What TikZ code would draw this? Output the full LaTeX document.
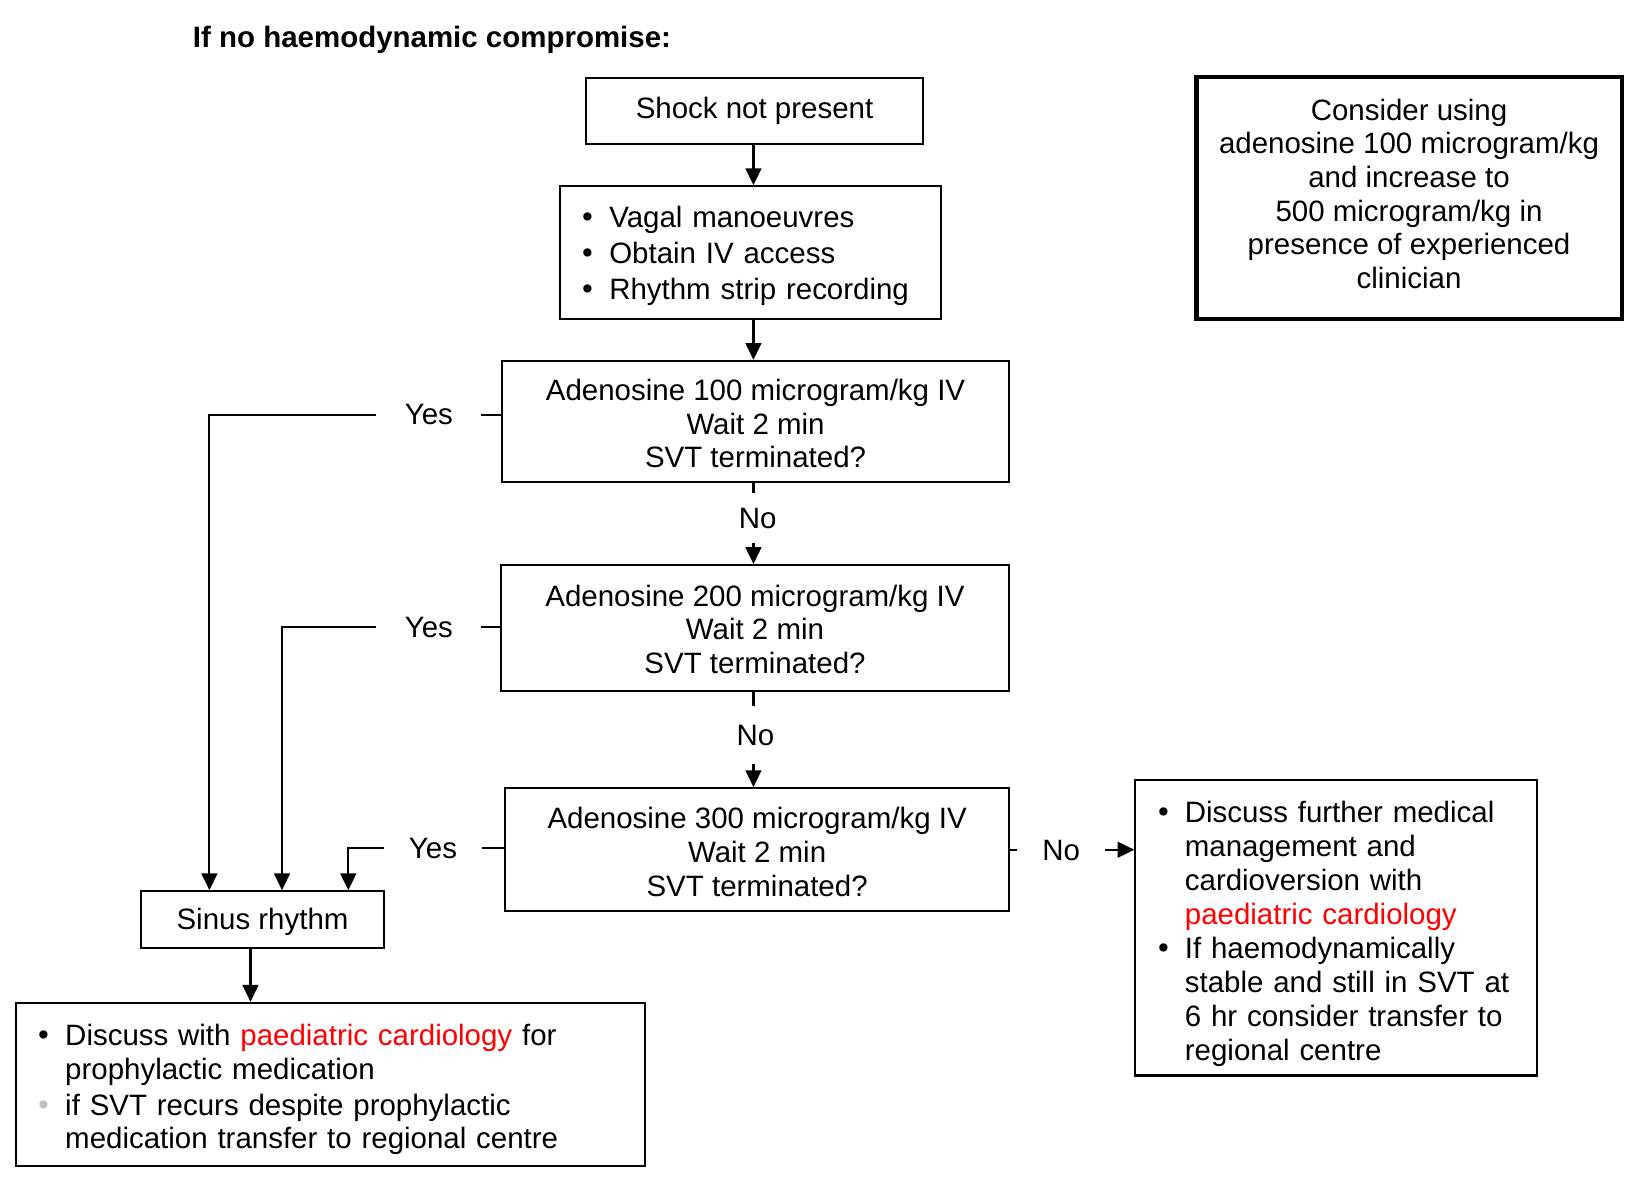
\documentclass[tikz,border=0pt]{standalone}
\usepackage{fontspec}
\setmainfont{Liberation Sans}
\newfontfamily\bulfont{DejaVu Sans}
\usetikzlibrary{arrows.meta}
\definecolor{pcred}{RGB}{255,0,0}
\definecolor{bulgrey}{RGB}{192,192,192}
\newcommand{\bigbul}{{\bulfont\fontsize{13.5}{16}\selectfont •}}
\newcommand{\bl}[1]{\hspace*{9.5pt}\makebox[14pt][l]{\bigbul}#1}
\newcommand{\gbl}[1]{\hspace*{9.5pt}\makebox[14pt][l]{\textcolor{bulgrey}{\bigbul}}#1}
\newcommand{\cl}[1]{\hspace*{23.5pt}#1}
\newcommand{\tpad}[1]{\rule{0pt}{#1}}
\newcommand{\bpad}[1]{\rule[-#1]{0pt}{0pt}}
\begin{document}
\begin{tikzpicture}[x=0.5pt,y=-0.5pt,
  every node/.style={font=\fontsize{14}{16}\selectfont},
  box/.style={draw, line width=1pt, inner sep=0pt, align=center},
  lbox/.style={draw, line width=1pt, inner xsep=0pt, inner ysep=0pt, align=left},
  lab/.style={inner sep=0pt},
  ln/.style={line width=1pt},
  arr/.style={line width=1pt, -{Triangle[width=7.5pt,length=8pt]}}]

\node[lab, font=\fontsize{14}{16}\selectfont\bfseries] (title) at (410.5,38) {If no haemodynamic compromise:};

\node[box, minimum width=160pt, minimum height=31.5pt] (shock) at (717,105.5) {Shock not present};

\node[lbox, text width=181pt, minimum height=63pt, font=\fontsize{14}{17}\selectfont] (vagal) at (713,240)
  {\tpad{13.4pt}\bl{Vagal manoeuvres}\\ \bl{Obtain IV access}\\ \bl{Rhythm strip recording}};

\node[box, minimum width=241pt, minimum height=57.5pt] (a100) at (718,400.5)
  {\tpad{12.2pt}Adenosine 100 microgram/kg IV\\ Wait 2 min\\ SVT terminated?};
\node[box, minimum width=241.5pt, minimum height=60pt] (a200) at (717.5,597)
  {\tpad{11.2pt}Adenosine 200 microgram/kg IV\\ Wait 2 min\\ SVT terminated?};
\node[box, minimum width=239.5pt, minimum height=58.5pt] (a300) at (719.5,807.5)
  {\tpad{12.2pt}Adenosine 300 microgram/kg IV\\ Wait 2 min\\ SVT terminated?};

\node[box, line width=2pt, minimum width=202pt, minimum height=115pt] (consider) at (1339,188)
  {Consider using\\ adenosine 100 microgram/kg\\ and increase to\\ 500 microgram/kg in\\ presence of experienced\\ clinician\bpad{4pt}};

\node[lbox, text width=191pt, minimum height=140.5pt, font=\fontsize{14}{16.2}\selectfont] (further) at (1270,881.5)
  {\tpad{16pt}\bl{Discuss further medical}\\ \cl{management and}\\ \cl{cardioversion with}\\ \cl{\textcolor{pcred}{paediatric cardiology}}\\
   \bl{If haemodynamically}\\ \cl{stable and still in SVT at}\\ \cl{6 hr consider transfer to}\\ \cl{regional centre}};

\node[box, minimum width=115.5pt, minimum height=27pt] (sinus) at (249.5,874) {\tpad{12pt}Sinus rhythm};

\node[lbox, text width=299pt, minimum height=77.5pt] (discuss) at (314,1030.5)
  {\tpad{15.2pt}\bl{Discuss with \textcolor{pcred}{paediatric cardiology} for}\\ \cl{prophylactic medication}\\[1pt]
   \gbl{if SVT recurs despite prophylactic}\\ \cl{medication transfer to regional centre}};

% column coordinate
\coordinate (col) at (716,0);

\draw[arr] (col |- shock.south) -- (col |- vagal.north);
\draw[arr] (col |- vagal.south) -- (col |- a100.north);

% No labels
\node[lab, minimum width=30pt, minimum height=23.5pt] (no1) at (720,492.5) {No};
\draw[ln] (col |- a100.south) -- (col |- no1.north);
\draw[arr] (col |- no1.south) -- (col |- a200.north);

\node[lab, minimum width=30pt, minimum height=27.5pt] (no2) at (718,698.5) {No};
\draw[ln] (col |- a200.south) -- (col |- no2.north);
\draw[arr] (col |- no2.south) -- (col |- a300.north);

\node[lab, minimum width=41.5pt, minimum height=20pt] (no3) at (1008.5,808.5) {No};
\draw[ln] (a300.east) -- (a300.east -| no3.west);
\draw[arr] (a300.east -| no3.east) -- (a300.east -| further.west);

% Yes labels
\node[lab, minimum width=49.5pt, minimum height=20pt] (yes1) at (407.5,394) {Yes};
\draw[ln] (a100.west |- yes1) -- (yes1.east);
\draw[arr] (yes1.west) -| ([xshift=-25.25pt]sinus.north);

\node[lab, minimum width=49.5pt, minimum height=20pt] (yes2) at (407.5,596) {Yes};
\draw[ln] (a200.west |- yes2) -- (yes2.east);
\draw[arr] (yes2.west) -| ([xshift=9.25pt]sinus.north);

\node[lab, minimum width=46.5pt, minimum height=20pt] (yes3) at (411.5,806) {Yes};
\draw[ln] (a300.west |- yes3) -- (yes3.east);
\draw[arr] (yes3.west) -| ([xshift=40.75pt]sinus.north);

\draw[arr] ([xshift=-5.75pt]sinus.south) -- ([xshift=-5.75pt]sinus.south |- discuss.north);

\pgfresetboundingbox
\useasboundingbox (0,0) rectangle (1568,1129);
\end{tikzpicture}
\end{document}
